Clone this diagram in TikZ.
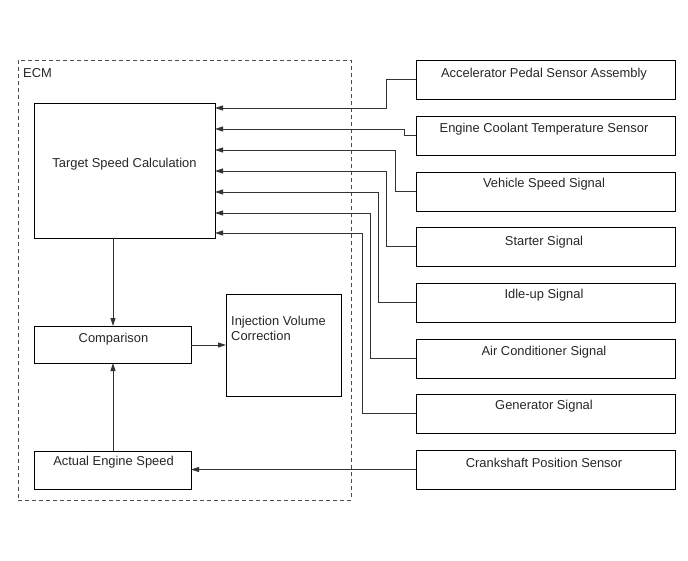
\documentclass[tikz,border=0pt]{standalone}
\usepackage{fontspec}
\setmainfont{Liberation Sans}
\usetikzlibrary{arrows.meta}
\begin{document}
\begin{tikzpicture}[x=1pt,y=-1pt,
  box/.style={draw=black,line width=1pt,inner sep=0pt,outer sep=0pt},
  txt/.style={font=\fontsize{12.9}{15}\selectfont,text=black!85,inner sep=0pt},
  conn/.style={draw=black!80,line width=0.9pt},
  arr/.style={conn,-{Triangle[length=8pt,width=5pt]}}]
\useasboundingbox (0,0) rectangle (688,560);
% ECM frame
\node[draw=black!70,dash pattern=on 4pt off 3pt,line width=0.8pt,minimum width=333pt,minimum height=440pt,anchor=north west,inner sep=0pt] (ecm) at (18,60) {};
\node[txt,anchor=west] (ecmlbl) at (23,73) {ECM};
% inner boxes
\node[box,minimum width=181pt,minimum height=135pt,anchor=north west] (tsc) at (34,103) {};
\node[txt] (tsct) at (124.5,164.5) {Target Speed Calculation};
\node[box,minimum width=157pt,minimum height=37pt,anchor=north west] (cmp) at (34,326) {};
\node[txt] (cmpt) at (113.5,339.5) {Comparison};
\node[box,minimum width=115pt,minimum height=102pt,anchor=north west] (ivc) at (226,294) {};
\node[txt,anchor=north west,align=left,font=\fontsize{12.9}{15.6}\selectfont] (ivct) at (231,315.5) {Injection Volume\\Correction};
\node[box,minimum width=157pt,minimum height=38pt,anchor=north west] (aes) at (34,451) {};
\node[txt] (aest) at (113.5,462.5) {Actual Engine Speed};
% right boxes
\foreach \n/\y/\t/\ty in {
  s1/60/Accelerator Pedal Sensor Assembly/74.5,
  s2/116/Engine Coolant Temperature Sensor/129.5,
  s3/172/Vehicle Speed Signal/184.5,
  s4/227/Starter Signal/242.5,
  s5/283/Idle-up Signal/295.5,
  s6/339/Air Conditioner Signal/352.5,
  s7/394/Generator Signal/406.5,
  s8/450/Crankshaft Position Sensor/462.5}{
  \node[box,minimum width=259pt,minimum height=39pt,anchor=north west] (\n) at (416,\y) {};
  \node[txt] (\n t) at (544,\ty) {\t};
}
% entry points on TSC
\foreach \i/\y in {1/108,2/129,3/150,4/171,5/192,6/213,7/233}{
  \coordinate (t\i) at (tsc.east |- 0,\y);
}
\draw[arr] (s1.west) -- (386,79.5) |- (t1);
\draw[arr] (s2.west) -- (404,135.5) |- (t2);
\draw[arr] (s3.west) -- (395,191.5) |- (t3);
\draw[arr] (s4.west) -- (386,246.5) |- (t4);
\draw[arr] (s5.west) -- (378,302.5) |- (t5);
\draw[arr] (s6.west) -- (370,358.5) |- (t6);
\draw[arr] (s7.west) -- (362,413.5) |- (t7);
\draw[arr] (s8.west |- 0,469.5) -- (aes.east |- 0,469.5);
% internal flow
\draw[arr] (tsc.south -| 113,0) -- (cmp.north -| 113,0);
\draw[arr] (aes.north -| 113,0) -- (cmp.south -| 113,0);
\draw[arr] (cmp.east |- 0,345) -- (ivc.west |- 0,345);
\end{tikzpicture}
\end{document}
